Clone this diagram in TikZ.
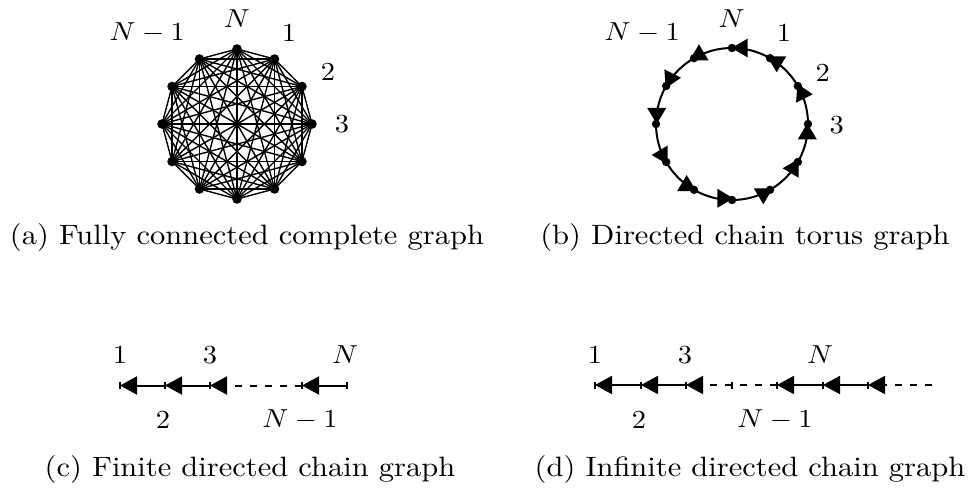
\documentclass[tikz,border=0pt]{standalone}
\usetikzlibrary{arrows.meta}
\newcommand{\sx}[1]{\scalebox{2.85}[2.6]{#1}}
\newcommand{\cx}[1]{\scalebox{3.05}[2.8]{#1}}
\tikzset{
  lbl/.style={inner sep=0pt},
  capt/.style={inner sep=0pt, anchor=base},
  vtx/.style={circle, inner sep=0pt, minimum size=8pt},
  chord/.style={line width=1.4pt},
  ring/.style={line width=2pt},
  chainarr/.style={line width=2pt, -{Triangle[length=17pt,width=18pt]}},
  dashedline/.style={line width=2pt, dash pattern=on 7pt off 8pt},
  tickmark/.style={line width=1.5pt},
}
\newcommand{\tarr}[3]{\fill[shift={(#1,#2)}, rotate=#3] (0,0) -- (-16,9.5) -- (-16,-9.5) -- cycle;}
\newcommand{\vtick}[1]{\draw[tickmark] ([yshift=-3.5pt]#1) -- ([yshift=3.5pt]#1);}
\begin{document}
\begin{tikzpicture}[x=1pt,y=-1pt]
\useasboundingbox (0,0) rectangle (969,492);

% (a) complete graph
\foreach \i in {0,...,11} {
  \path (237,124) ++(\i*30:75) node[vtx] (a\i) {};
}
\foreach \i in {0,...,10} {
  \pgfmathtruncatemacro\s{\i+1}
  \foreach \j in {\s,...,11} {
    \draw[chord] (a\i.center) -- (a\j.center);
  }
}
\foreach \i in {0,...,11} { \fill (a\i.center) circle (4.8pt); }
\node[lbl] (aN) at (237,19) {\sx{$N$}};
\node[lbl] (a1l) at (289,33) {\sx{$1$}};
\node[lbl] (a2l) at (328,72) {\sx{$2$}};
\node[lbl] (a3l) at (342,124) {\sx{$3$}};
\node[lbl, anchor=east] (aNm) at (185,33) {\sx{$N-1$}};

% (b) torus
\foreach \i in {0,...,11} {
  \path (732,124) ++(\i*30:76) node[vtx] (t\i) {};
}
\draw[ring] (732,124) circle (76pt);
\foreach \i in {0,...,11} { \fill (t\i.center) circle (4.2pt); }
\tarr{731.7}{48}{180}
\tarr{699}{44.3}{90}
\tarr{681}{77.7}{4}
\tarr{656.7}{124}{-90}
\tarr{651.7}{155}{180}
\tarr{686.7}{175}{90}
\tarr{733.3}{198.3}{0}
\tarr{763.3}{204.3}{-90}
\tarr{782.7}{168.3}{180}
\tarr{807.3}{123.3}{90}
\tarr{812.7}{94.3}{-4}
\tarr{776.7}{72.3}{-90}
\node[lbl] (bN) at (731.7,18.3) {\sx{$N$}};
\node[lbl] (b1l) at (784,33) {\sx{$1$}};
\node[lbl] (b2l) at (822.7,73) {\sx{$2$}};
\node[lbl] (b3l) at (836.7,125) {\sx{$3$}};
\node[lbl, anchor=east] (bNm) at (680,33) {\sx{$N-1$}};

% (c) finite chain
\coordinate (c1) at (120,385.5);
\coordinate (c2) at (165,385.5);
\coordinate (c3) at (210,385.5);
\coordinate (cm) at (302,385.5);
\coordinate (cn) at (347,385.5);
\draw[chainarr] (c2) -- (c1);
\draw[chainarr] (c3) -- (c2);
\draw[dashedline] (cm) -- ([xshift=10pt]c3);
\draw[chainarr, dash pattern=on 0pt off 100pt] (cm) -- (c3);
\draw[chainarr] (cn) -- (cm);
\foreach \p in {c1,c2,c3,cm,cn} { \vtick{\p} }
\node[lbl] (c1l) at (120,355) {\sx{$1$}};
\node[lbl] (c3l) at (210,355) {\sx{$3$}};
\node[lbl] (cnl) at (345,355) {\sx{$N$}};
\node[lbl] (c2l) at (163,420) {\sx{$2$}};
\node[lbl] (cml) at (300,420) {\sx{$N-1$}};

% (d) infinite chain
\coordinate (d1) at (595,385);
\coordinate (d2) at (641,385);
\coordinate (d3) at (686,385);
\coordinate (dx) at (732,385);
\coordinate (dm) at (777,385);
\coordinate (dn) at (823,385);
\coordinate (dp) at (868,385);
\coordinate (de) at (932,385);
\draw[chainarr] (d2) -- (d1);
\draw[chainarr] (d3) -- (d2);
\draw[dashedline] (dx) -- ([xshift=10pt]d3);
\draw[chainarr, dash pattern=on 0pt off 100pt] (dx) -- (d3);
\draw[dashedline] (dm) -- (dx);
\draw[chainarr] (dn) -- (dm);
\draw[chainarr] (dp) -- (dn);
\draw[dashedline] (de) -- ([xshift=10pt]dp);
\draw[chainarr, dash pattern=on 0pt off 100pt] (de) -- (dp);
\foreach \p in {d1,d2,d3,dx,dm,dn,dp} { \vtick{\p} }
\node[lbl] (d1l) at (595,355) {\sx{$1$}};
\node[lbl] (d3l) at (685,355) {\sx{$3$}};
\node[lbl] (dnl) at (820,355) {\sx{$N$}};
\node[lbl] (d2l) at (639,420) {\sx{$2$}};
\node[lbl] (dml) at (775,420) {\sx{$N-1$}};

% captions
\node[capt] (capa) at (247,244.5) {\cx{(a) Fully connected complete graph}};
\node[capt] (capb) at (745,244.5) {\cx{(b) Directed chain torus graph}};
\node[capt] (capc) at (250,476.5) {\cx{(c) Finite directed chain graph}};
\node[capt] (capd) at (750,476.5) {\cx{(d) Infinite directed chain graph}};
\end{tikzpicture}
\end{document}
